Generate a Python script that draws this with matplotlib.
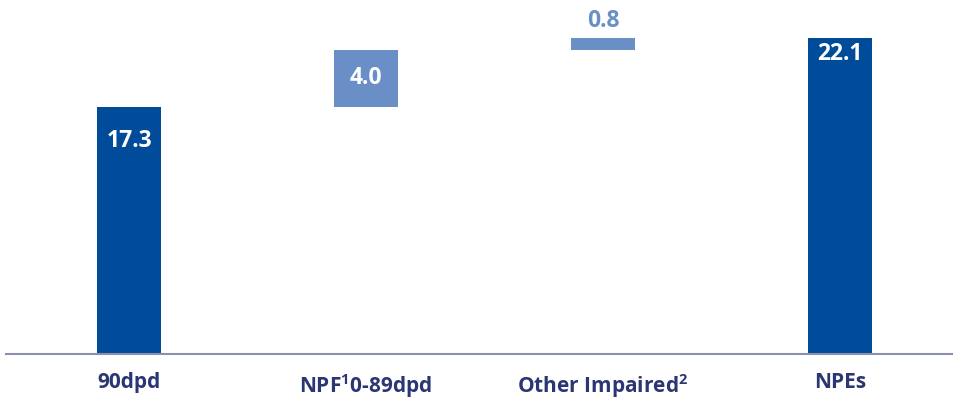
import matplotlib.pyplot as plt
import numpy as np

categories = ["90dpd", "NPF$^{1}$0-89dpd", "Other Impaired$^{2}$", "NPEs"]
values = [17.3, 4.0, 0.8, 22.1]
kinds = ["total", "step", "step", "total"]
value_labels = ["17.3", "4.0", "0.8", "22.1"]

dark_blue = "#004C9B"
light_blue = "#6A8FC6"
navy = "#2B3673"

plt.rcParams['font.family'] = ['Open Sans', 'DejaVu Sans']
plt.rcParams['mathtext.fontset'] = 'custom'
plt.rcParams['mathtext.rm'] = 'Open Sans:bold'
plt.rcParams['mathtext.it'] = 'Open Sans:bold'
plt.rcParams['mathtext.bf'] = 'Open Sans:bold'
plt.rcParams['mathtext.sf'] = 'Open Sans:bold'

# waterfall bottoms: totals start at zero, steps stack on the running sum
bottoms = []
running = 0.0
for v, k in zip(values, kinds):
    if k == "total":
        bottoms.append(0.0)
        running = v
    else:
        bottoms.append(running)
        running += v
colors = [dark_blue if k == "total" else light_blue for k in kinds]

fig = plt.figure(figsize=(9.54, 4.01), dpi=100)
ax = fig.add_axes([6 / 954, 47 / 401, 948 / 954, 354 / 401])

x = np.arange(len(categories))
bars = ax.bar(x, values, bottom=bottoms, width=0.27, color=colors, zorder=2)

ax.set_xlim(-123 / 237, 3 + 114 / 237)
ax.set_ylim(0, 354 / 14.28)

fs_val = 16.5
fs_cat = 15
# value labels: inside the tall bars, above the thin one
offsets = [-34, 0, 0, -16]
for i, (b, lab) in enumerate(zip(bars, value_labels)):
    top = bottoms[i] + values[i]
    cx = b.get_x() + b.get_width() / 2
    if i == 1:
        ax.text(cx, bottoms[i] + values[i] / 2, lab, ha="center", va="center",
                color="white", fontsize=fs_val, fontweight="bold")
    elif i == 2:
        ax.annotate(lab, (cx, top), xytext=(0, 5), textcoords="offset pixels",
                    ha="center", va="bottom", color=light_blue,
                    fontsize=fs_val, fontweight="bold")
    else:
        ax.annotate(lab, (cx, top), xytext=(0, offsets[i]),
                    textcoords="offset pixels", ha="center", va="center",
                    color="white", fontsize=fs_val, fontweight="bold")

ax.set_xticks(x)
ax.set_xticklabels(categories, fontsize=fs_cat, fontweight="bold", color=navy)
ax.tick_params(axis="x", length=0, pad=13)
ax.set_yticks([])

for s in ["top", "right", "left"]:
    ax.spines[s].set_visible(False)
ax.spines["bottom"].set_color("#8C90B0")
ax.spines["bottom"].set_linewidth(1.5)

fig.savefig("out.png", dpi=100)
